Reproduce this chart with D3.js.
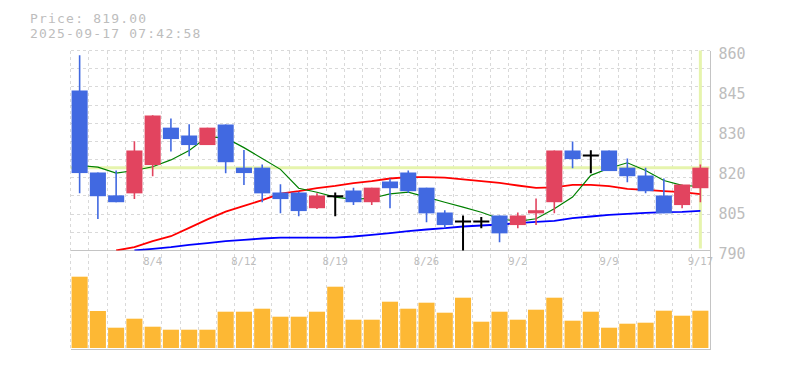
<!DOCTYPE html>
<html>
<head>
<meta charset="utf-8">
<script src="https://cdn.jsdelivr.net/npm/d3@7"></script>
<style>
body { margin: 0; background: #fff; }
svg { display: block; }
</style>
</head>
<body>
<div id="chart"></div>
<script>
// daily candles, 7/29 - 9/17
const dates = ['7/29','7/30','7/31','8/1','8/4','8/5','8/6','8/7','8/8','8/12','8/13','8/14','8/15','8/18','8/19','8/20','8/21','8/22','8/25','8/26','8/27','8/28','8/29','9/1','9/2','9/3','9/4','9/5','9/8','9/9','9/10','9/11','9/12','9/16','9/17'];
const opens  = [846, 817.3, 809.3, 810, 819.9, 833, 830.25, 826.9, 834.1, 819, 819, 810.3, 810.3, 804.8, 809, 811, 806.9, 814.15, 817.3, 812, 803.3, 800.15, 800.15, 802.25, 798.9, 803, 806.9, 825, 823.25, 825, 819, 816.25, 809.25, 805.9, 811.8];
const highs  = [858.3, 817.3, 818, 828.2, 837.3, 836.2, 834.2, 833, 834.1, 825.2, 820.1, 813.2, 810.6, 810, 810.3, 812, 812, 815.1, 818, 812, 804.1, 802.25, 801.7, 802.25, 803.3, 808.2, 825, 828.15, 825.1, 825, 822.2, 819, 815.2, 813.1, 820.1];
const lows   = [810, 801, 806.9, 808, 816, 824.65, 823, 826.9, 817, 812.9, 806.9, 803, 802, 804.5, 802, 805.9, 805.9, 804.8, 810.2, 799.9, 797.8, 789.8, 797.8, 792.9, 797.8, 798.9, 803, 818.8, 817, 817.8, 813.9, 810, 803, 804.8, 806.9];
const closes = [817.1, 809, 806.9, 825, 837.25, 829, 826.9, 833, 820.9, 817.1, 810, 808, 803.8, 809.25, 809, 806.9, 812, 811.8, 810.75, 803, 798.9, 800.15, 800.15, 796, 802.25, 804.1, 825, 822, 823.25, 817.8, 816, 810.75, 803, 813.1, 819];
const volumes = [71300, 37000, 20300, 29300, 21300, 18300, 18300, 18300, 36300, 36300, 39300, 31300, 31300, 36300, 61300, 28300, 28300, 46300, 39300, 45300, 35300, 50300, 26300, 36300, 28300, 38300, 50300, 27300, 36300, 20300, 24300, 25300, 37300, 32300, 37300];

// moving averages as drawn (short / mid / long)
const maShort = [819.75, 819.2, 817.1, 818.0, 819.3, 821.7, 825.0, 829.8, 829.4, 826.0, 822.2, 818.4, 811.8, 810.4, 808.7, 807.9, 808.3, 809.8, 810.4, 808.7, 806.9, 805.2, 803.4, 801.1, 800.2, 801.1, 804.6, 808.7, 816.3, 818.8, 820.7, 818.0, 814.5, 812.8, 812.4];
const maMid = [null, null, 790.0, 791.2, 793.3, 795.0, 797.9, 800.9, 803.6, 805.6, 807.6, 809.9, 810.75, 811.8, 812.6, 813.6, 814.3, 815.2, 815.65, 815.65, 815.5, 814.9, 814.3, 813.7, 812.75, 811.9, 812.1, 813.0, 813.0, 812.5, 811.6, 811.2, 810.8, 810.4, 809.7];
const maLong = [null, null, null, 790.0, 790.6, 791.2, 791.95, 792.6, 793.3, 793.7, 794.2, 794.5, 794.5, 794.5, 794.5, 794.9, 795.5, 796.1, 796.75, 797.35, 797.8, 798.4, 798.75, 799.1, 799.55, 800.05, 800.4, 801.3, 801.9, 802.5, 802.85, 803.2, 803.4, 803.55, 803.9];

const yTicks = [860, 846, 832, 818, 804, 790];
const yTickLabels = ['860', '845', '830', '820', '805', '790'];
const xTickDates = ['8/4', '8/12', '8/19', '8/26', '9/2', '9/9', '9/17'];

const lastPrice = 819;
const headerLines = ['Price: 819.00', '2025-09-17 07:42:58'];

const w = 785, h = 370;
const plotLeft = 70.5, plotRight = 709.5;
const plotTop = 50.5, priceBottom = 250.5, volBottom = 349.5;
const gridColor = '#d9d9d9', frameColor = '#c4c4c4', textColor = '#bdbdbd';
const upColor = '#e2445f', downColor = '#4169e1', hiliteColor = '#e6f4ad';
const mono = '"DejaVu Sans Mono", monospace';

const idx = d3.range(dates.length);

const x = d3.scaleBand()
    .domain(idx)
    .range([plotLeft, plotRight])
    .paddingInner(0.12)
    .paddingOuter(0.06);
const xc = i => x(i) + x.bandwidth() / 2;

const y = d3.scaleLinear()
    .domain([790, 860])
    .range([priceBottom, plotTop]);

const yVol = d3.scaleLinear()
    .domain([0, 80000])
    .range([volBottom - 1.5, volBottom - 81.5]);

const svg = d3.select('#chart')
    .append('svg')
    .attr('width', w)
    .attr('height', h);

svg.append('rect').attr('width', w).attr('height', h).attr('fill', '#fff');

svg.append('clipPath').attr('id', 'priceClip')
    .append('rect')
    .attr('x', plotLeft).attr('y', plotTop)
    .attr('width', plotRight - plotLeft).attr('height', priceBottom - plotTop);

// grid
const grid = svg.append('g')
    .attr('stroke', gridColor)
    .attr('stroke-dasharray', '3,3')
    .attr('shape-rendering', 'crispEdges');

const step = x.step();
const xEdges = d3.range(dates.length).map(i => plotLeft + i * step);
grid.selectAll('.vgrid')
    .data(xEdges)
    .enter()
    .append('line')
    .attr('x1', d => d).attr('x2', d => d)
    .attr('y1', plotTop).attr('y2', volBottom);

const hGrid = d3.range(11).map(k => plotTop + k * (priceBottom - plotTop) / 11);
grid.selectAll('.hgrid')
    .data(hGrid)
    .enter()
    .append('line')
    .attr('x1', plotLeft).attr('x2', plotRight)
    .attr('y1', d => d).attr('y2', d => d);

// frame
const frame = svg.append('g')
    .attr('stroke', frameColor)
    .attr('shape-rendering', 'crispEdges');
frame.append('line').attr('x1', plotLeft).attr('x2', plotRight + 1).attr('y1', priceBottom).attr('y2', priceBottom);
frame.append('line').attr('x1', plotLeft).attr('x2', plotRight + 1).attr('y1', volBottom).attr('y2', volBottom);
frame.append('line').attr('x1', plotRight + 1).attr('x2', plotRight + 1).attr('y1', plotTop).attr('y2', volBottom);

// current price highlight
svg.append('line')
    .attr('x1', plotLeft).attr('x2', plotRight)
    .attr('y1', y(lastPrice)).attr('y2', y(lastPrice))
    .attr('stroke', hiliteColor)
    .attr('stroke-width', 3);
svg.append('line')
    .attr('x1', xc(dates.length - 1)).attr('x2', xc(dates.length - 1))
    .attr('y1', plotTop).attr('y2', priceBottom - 2)
    .attr('stroke', hiliteColor)
    .attr('stroke-width', 3);

// moving averages
const maLine = d3.line()
    .defined(d => d != null)
    .x((d, i) => xc(i))
    .y(d => y(d));

const maGroup = svg.append('g').attr('clip-path', 'url(#priceClip)').attr('fill', 'none');
[[maLong, '#0000ff', 1.8], [maMid, '#ff0000', 1.8], [maShort, '#008000', 1.2]].forEach(([vals, color, sw]) => {
    maGroup.append('path')
        .datum(vals)
        .attr('d', maLine)
        .attr('stroke', color)
        .attr('stroke-width', sw);
});

// candles
const candleColor = i => closes[i] > opens[i] ? upColor : (closes[i] < opens[i] ? downColor : '#000');

const candles = svg.append('g').attr('clip-path', 'url(#priceClip)')
    .selectAll('g')
    .data(idx)
    .enter()
    .append('g');

candles.append('line')
    .attr('x1', i => xc(i)).attr('x2', i => xc(i))
    .attr('y1', i => y(highs[i])).attr('y2', i => y(lows[i]))
    .attr('stroke', candleColor)
    .attr('stroke-width', i => closes[i] === opens[i] ? 2 : 1.6);

candles.filter(i => closes[i] !== opens[i])
    .append('rect')
    .attr('x', i => x(i))
    .attr('width', x.bandwidth())
    .attr('y', i => y(Math.max(opens[i], closes[i])))
    .attr('height', i => y(Math.min(opens[i], closes[i])) - y(Math.max(opens[i], closes[i])))
    .attr('fill', candleColor);

candles.filter(i => closes[i] === opens[i])
    .append('line')
    .attr('x1', i => x(i)).attr('x2', i => x(i) + x.bandwidth())
    .attr('y1', i => y(opens[i])).attr('y2', i => y(opens[i]))
    .attr('stroke', '#000')
    .attr('stroke-width', 2);

// volume
svg.append('g')
    .selectAll('rect')
    .data(idx)
    .enter()
    .append('rect')
    .attr('x', i => x(i))
    .attr('width', x.bandwidth())
    .attr('y', i => yVol(volumes[i]))
    .attr('height', i => yVol(0) - yVol(volumes[i]))
    .attr('fill', '#fdb834');

// y axis labels (right side)
const yAxis = d3.axisRight(y)
    .tickValues(yTicks)
    .tickFormat((d, i) => yTickLabels[i])
    .tickSize(0)
    .tickPadding(9);
const yg = svg.append('g')
    .attr('transform', `translate(${plotRight},0)`)
    .call(yAxis);
yg.select('.domain').remove();
yg.selectAll('text')
    .attr('font-family', mono)
    .attr('font-size', 15)
    .attr('fill', textColor)
    .attr('dy', '0.55em');

// x axis labels
const xAxis = d3.axisBottom(x)
    .tickValues(idx.filter(i => xTickDates.includes(dates[i])))
    .tickFormat(i => dates[i])
    .tickSize(0)
    .tickPadding(7);
const xg = svg.append('g')
    .attr('transform', `translate(0,${priceBottom})`)
    .call(xAxis);
xg.select('.domain').remove();
xg.selectAll('text')
    .attr('font-family', mono)
    .attr('font-size', 10.5)
    .attr('fill', textColor);

// header
svg.selectAll('.header')
    .data(headerLines)
    .enter()
    .append('text')
    .attr('x', 30)
    .attr('y', (d, i) => 22.5 + i * 15.5)
    .attr('font-family', mono)
    .attr('font-size', 13)
    .attr('letter-spacing', 1.2)
    .attr('fill', textColor)
    .text(d => d);
</script>
</body>
</html>
